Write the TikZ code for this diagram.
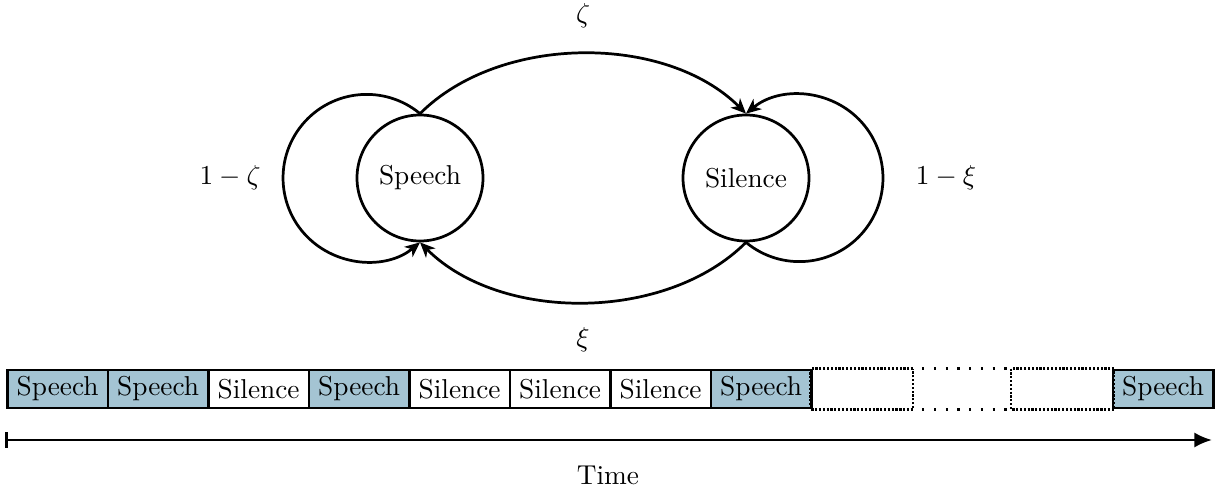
\documentclass[tikz,border=0pt]{standalone}
\usetikzlibrary{arrows.meta}
\definecolor{boxblue}{RGB}{164,196,211}
\tikzset{
  state/.style={circle,draw,line width=1pt,minimum size={126*0.3661pt},inner sep=0pt},
  trans/.style={line width=1pt,-{Stealth[length=5.5pt,width=4.8pt,inset=1.6pt]}},
  slot/.style={draw,line width=1pt,minimum width={100.5*0.3661pt},minimum height={38*0.3661pt},inner sep=0.5pt,anchor=west},
  sp/.style={slot,fill=boxblue},
  si/.style={slot,fill=white},
  dense/.style={slot,draw=none},
  lbl/.style={inner sep=0pt}
}
\begin{document}
\begin{tikzpicture}[x=0.3661pt,y=-0.3661pt]
\useasboundingbox (0,0) rectangle (1225,488);
% states
\node[state] (Speech) at (420,178) {Speech};
\node[state] (Silence) at (746,178) {Silence};
% transitions
\draw[trans] (Speech.north) arc[start angle=-50.33, end angle=-309.67, radius=83.6];
\draw[trans] (Silence.south) arc[start angle=129.67, end angle=-129.67, radius=83.6];
\draw[trans] (Speech.north) .. controls +(80,-80) and +(-80,-80) .. (Silence.north);
\draw[trans] (Silence.south) .. controls +(-80,80) and +(80,80) .. (Speech.south);
% labels
\node[lbl] (lz) at (583,16) {$\zeta$};
\node[lbl] (lx) at (583,340) {$\xi$};
\node[lbl] (lsz) at (230,178) {$1-\zeta$};
\node[lbl] (lsx) at (946,178) {$1-\xi$};
% sequence
\node[sp] (b1) at (6,389) {Speech};
\node[sp] (b2) at (106.5,389) {Speech};
\node[si] (b3) at (207,389) {Silence};
\node[sp] (b4) at (307.5,389) {Speech};
\node[si] (b5) at (408,389) {Silence};
\node[si] (b6) at (508.5,389) {Silence};
\node[si] (b7) at (609,389) {Silence};
\node[sp] (b8) at (709.5,389) {Speech};
\node[dense] (b9) at (810,389) {};
\node[dense] (b10) at (910.5,389) {};
\node[dense] (b11) at (1011,389) {};
\node[sp] (b12) at (1111.5,389) {Speech};
\draw[line width=0.9pt,dash pattern=on 0.8pt off 0.6pt] (b9.north east) -- (b9.north west) -- (b9.south west) -- (b9.south east) -- cycle;
\draw[line width=0.9pt,dash pattern=on 0.8pt off 0.6pt] (b11.north east) -- (b11.north west) -- (b11.south west) -- (b11.south east) -- cycle;
\draw[line width=0.9pt,dash pattern=on 0.8pt off 3.5pt] (b10.north west) -- (b10.north east);
\draw[line width=0.9pt,dash pattern=on 0.8pt off 3.5pt] (b10.south west) -- (b10.south east);
% time axis
\coordinate (t0) at (5,440);
\coordinate (t1) at (1212,440);
\draw[line width=1pt,{Bar[width=5.5pt]}-{Latex[length=6.5pt,width=5.6pt]}] (t0) -- (t1);
\node[lbl,anchor=base] (time) at (608,484) {Time};
\end{tikzpicture}
\end{document}
